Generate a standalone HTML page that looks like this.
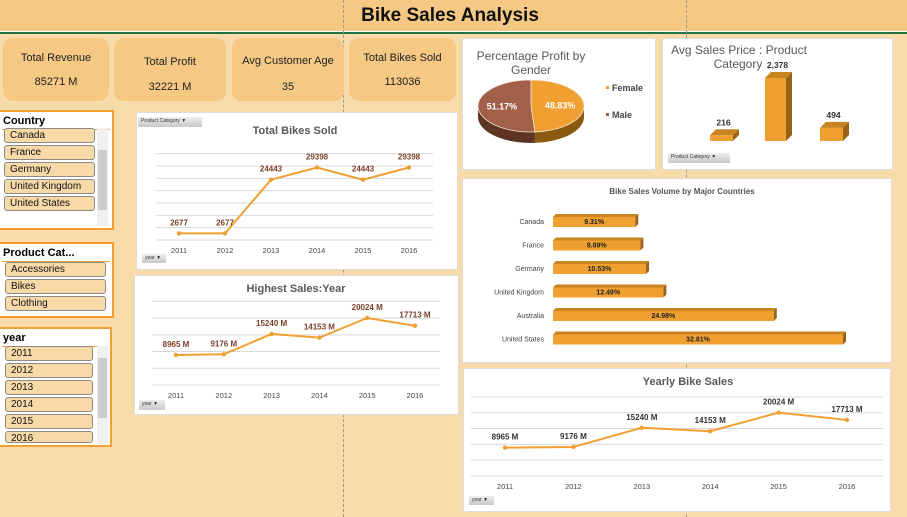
<!DOCTYPE html>
<html><head><meta charset="utf-8">
<style>
*{box-sizing:border-box;margin:0;padding:0}
body{width:907px;height:517px;overflow:hidden;background:#f8dbab;font-family:"Liberation Sans",sans-serif;position:relative}
.abs{position:absolute}
#header{left:0;top:0;width:907px;height:32px;background:#f5c883}
#title{left:0;width:900px;top:5px;text-align:center;font-weight:bold;font-size:19px;color:#111}
.kpi{background:#f5c883;border-radius:10px;text-align:center;font-size:11px;color:#222}
.kpi .l{position:absolute;left:0;right:0;top:14px}
.kpi .v{position:absolute;left:0;right:0;top:38px}
.slicer{background:#fff;border:2px solid #f0a030}
.slicer .hd{position:absolute;left:3px;top:3px;font-weight:bold;font-size:11px;color:#000}
.slicer .hl{position:absolute;left:2px;right:2px;top:17px;height:1px;background:#f0a030}
.item{position:absolute;height:15px;background:#f8d9a8;border:1px solid #8a8a8a;border-radius:3px;font-size:10px;padding-left:5px;line-height:13px;color:#111}
.scroll{position:absolute;background:#f0f0f0;width:11px}
.thumb{position:absolute;left:1px;width:9px;background:#cdcdcd}
.panel{background:#fff;border:1px solid #ddd}
.btn{position:absolute;background:linear-gradient(#eee,#c8c8c8);font-size:5px;color:#333;line-height:9px;padding-left:3px}
</style></head><body>
<div class="abs" id="header"></div>
<div class="abs" style="left:0;top:31px;width:907px;height:1px;background:#fff"></div>
<div class="abs" style="left:0;top:32px;width:907px;height:2px;background:#217346"></div>
<div class="abs" id="title">Bike Sales Analysis</div>
<div class="abs" style="left:343px;top:0;height:517px;border-left:1px dashed #999"></div>
<div class="abs" style="left:686px;top:0;height:517px;border-left:1px dashed #999"></div>

<div class="abs kpi" style="left:3px;top:38px;width:106px;height:63px"><div class="l">Total Revenue</div><div class="v">85271 M</div></div>
<div class="abs kpi" style="left:114px;top:38px;width:112px;height:63px"><div class="l" style="top:18px">Total Profit</div><div class="v" style="top:43px">32221 M</div></div>
<div class="abs kpi" style="left:232px;top:38px;width:112px;height:63px"><div class="l" style="top:17px">Avg Customer Age</div><div class="v" style="top:43px">35</div></div>
<div class="abs kpi" style="left:349px;top:38px;width:107px;height:63px"><div class="l" style="top:14px">Total Bikes Sold</div><div class="v" style="top:38px">113036</div></div>

<div class="abs slicer" style="left:-2px;top:110px;width:116px;height:120px">
<div class="hd">Country</div><div class="hl"></div>
<div class="item" style="left:4px;top:16px;width:91px">Canada</div>
<div class="item" style="left:4px;top:33px;width:91px">France</div>
<div class="item" style="left:4px;top:50px;width:91px">Germany</div>
<div class="item" style="left:4px;top:67px;width:91px">United Kingdom</div>
<div class="item" style="left:4px;top:84px;width:91px">United States</div>
<div class="scroll" style="left:97px;top:16px;height:98px"><div class="thumb" style="top:22px;height:60px"></div></div>
</div>
<div class="abs slicer" style="left:-2px;top:242px;width:116px;height:76px">
<div class="hd">Product Cat...</div><div class="hl"></div>
<div class="item" style="left:5px;top:18px;width:101px">Accessories</div>
<div class="item" style="left:5px;top:35px;width:101px">Bikes</div>
<div class="item" style="left:5px;top:52px;width:101px">Clothing</div>
</div>
<div class="abs slicer" style="left:-2px;top:327px;width:114px;height:120px">
<div class="hd">year</div><div class="hl"></div>
<div class="item" style="left:5px;top:17px;width:88px">2011</div>
<div class="item" style="left:5px;top:34px;width:88px">2012</div>
<div class="item" style="left:5px;top:51px;width:88px">2013</div>
<div class="item" style="left:5px;top:68px;width:88px">2014</div>
<div class="item" style="left:5px;top:85px;width:88px">2015</div>
<div class="item" style="left:5px;top:102px;width:88px;height:12px">2016</div>
<div class="scroll" style="left:97px;top:17px;height:98px"><div class="thumb" style="top:12px;height:60px"></div></div>
</div>

<div class="abs panel" style="left:136px;top:112px;width:322px;height:158px"></div>
<div class="abs panel" style="left:134px;top:275px;width:325px;height:140px"></div>
<div class="abs panel" style="left:462px;top:38px;width:194px;height:132px"></div>
<div class="abs panel" style="left:662px;top:38px;width:231px;height:132px"></div>
<div class="abs panel" style="left:462px;top:178px;width:430px;height:185px"></div>
<div class="abs panel" style="left:463px;top:368px;width:428px;height:144px"></div>

<div class="btn" style="left:138px;top:117px;width:64px;height:10px">Product Category ▼</div>
<div class="btn" style="left:142px;top:254px;width:24px;height:9px">year ▼</div>
<div class="btn" style="left:139px;top:400px;width:26px;height:10px">year ▼</div>
<div class="btn" style="left:668px;top:153px;width:62px;height:10px">Product Category ▼</div>
<div class="btn" style="left:469px;top:496px;width:25px;height:9px">year ▼</div>

<svg id="chart" class="abs" style="left:0;top:0" width="907" height="517"></svg>

<script>
const years = ["2011","2012","2013","2014","2015","2016"];
const bikesSold = [2677, 2677, 24443, 29398, 24443, 29398];
const bikesTicks = [0,5000,10000,15000,20000,25000,30000,35000];
const salesM = [8965, 9176, 15240, 14153, 20024, 17713];
const salesTicks = [0,5000,10000,15000,20000,25000];
const genderLabels = ["Female","Male"];
const genderPct = [48.83, 51.17];
const priceCats = ["Accessories","Bikes","Clothing"];
const avgPrice = [216, 2378, 494];
const countries = ["Canada","France","Germany","United Kingdom","Australia","United States"];
const countryPct = [9.31, 9.89, 10.53, 12.49, 24.98, 32.81];

const svg = document.getElementById('chart');
const NS = 'http://www.w3.org/2000/svg';
function mk(tag, attrs, txt){const e=document.createElementNS(NS,tag);for(const k in attrs)e.setAttribute(k,attrs[k]);if(txt!==undefined)e.textContent=txt;svg.appendChild(e);return e;}
const ORANGE='#f0a030';

function lineChart(cfg, vals, ticks, fmt, prefix){
  const xs=i=>cfg.x0+i*cfg.dx;
  const ys=v=>cfg.yb-v*cfg.k;
  let t=mk('text',{x:cfg.tx,y:cfg.ty,'text-anchor':'middle','font-size':cfg.tfs,'font-weight':'bold',fill:'#595959'},cfg.title);
  
  
  ticks.forEach(v=>{const g=mk('line',{x1:cfg.gl,x2:cfg.gr,y1:ys(v),y2:ys(v),stroke:'#d9d9d9','stroke-width':1});
    
    });
  const pts=vals.map((v,i)=>xs(i)+','+ys(v)).join(' ');
  const pl=mk('polyline',{points:pts,fill:'none',stroke:ORANGE,'stroke-width':2});
  
  
  vals.forEach((v,i)=>{
    const c=mk('circle',{cx:xs(i),cy:ys(v),r:2.2,fill:ORANGE});
    
    
    const l=mk('text',{x:xs(i),y:ys(v)-cfg.lo,'text-anchor':'middle','font-size':8,'font-weight':'bold',fill:cfg.lc},fmt(v));
    
    
    const y=mk('text',{x:xs(i),y:cfg.yl,'text-anchor':'middle','font-size':7.5,fill:'#444'},years[i]);
    
    
  });
}
lineChart({title:'Total Bikes Sold',tx:295,ty:134,tfs:11,gl:156,gr:433,x0:179,dx:46,yb:240,k:74/30000,lo:8,lc:'#7b3f2b',yl:253},bikesSold,bikesTicks,v=>String(v),'bikes-sold');
lineChart({title:'Highest Sales:Year',tx:296,ty:292,tfs:11,gl:152,gr:440,x0:176,dx:47.8,yb:385,k:37/11059,lo:8,lc:'#7b3f2b',yl:398},salesM,salesTicks,v=>v+' M','highest-sales');
lineChart({title:'Yearly Bike Sales',tx:688,ty:385,tfs:11,gl:471,gr:883,x0:505,dx:68.4,yb:476,k:35/11059,lo:8,lc:'#333',yl:489},salesM,salesTicks,v=>v+' M','yearly-sales');

// pie
(function(){
  const cx=531, cy=106, rx=53, ry=26, d=11;
  let t=mk('text',{x:531,y:60,'text-anchor':'middle','font-size':12,fill:'#595959'},'Percentage Profit by');
  
  
  mk('text',{x:531,y:74,'text-anchor':'middle','font-size':12,fill:'#595959'},'Gender');
  const total=genderPct.reduce((a,b)=>a+b,0);
  const colors=[ORANGE,'#a0604a'], side=['#8a5a10','#5e3424'];
  let a0=-Math.PI/2;
  const angs=genderPct.map(p=>{const s=a0;a0+=p/total*2*Math.PI;return [s,a0];});
  const P=(a,dy)=>[cx+rx*Math.cos(a),cy+ry*Math.sin(a)+(dy||0)];
  // sides (bottom half)
  angs.forEach(([s,e],i)=>{
    const s2=Math.max(s,0), e2=Math.min(e,Math.PI);
    let ss=s, ee=e;
    // map to front arc range [0,PI]
    const segs=[];
    for(const off of [0,2*Math.PI]){const a=Math.max(s,off+0),b=Math.min(e,off+Math.PI);if(b>a)segs.push([a,b]);}
    segs.forEach(([a,b])=>{const p1=P(a),p2=P(b);
      const s1=mk('path',{d:`M${p1} A${rx},${ry} 0 0 1 ${p2} L${P(b,d)} A${rx},${ry} 0 0 0 ${P(a,d)} Z`,fill:side[i]});
      
      });
  });
  angs.forEach(([s,e],i)=>{
    const large=(e-s)>Math.PI?1:0;
    const sl=mk('path',{d:`M${cx},${cy} L${P(s)} A${rx},${ry} 0 ${large} 1 ${P(e)} Z`,fill:colors[i],stroke:'#f5e6d0','stroke-width':0.8});
    
    
    const m=(s+e)/2;
    const l=mk('text',{x:cx+rx*0.55*Math.cos(m),y:cy+ry*0.4*Math.sin(m)+3,'text-anchor':'middle','font-size':9,'font-weight':'bold',fill:'#fff'},genderPct[i].toFixed(2)+'%');
    
    
    const r=mk('rect',{x:606,y:86+i*27,width:3,height:3,fill:colors[i]});
    
    
    const lt=mk('text',{x:612,y:91+i*27,'font-size':9,'font-weight':'bold',fill:'#444'},genderLabels[i]);
    
    
  });
})();

// avg price 3D columns
(function(){
  let t=mk('text',{x:739,y:54,'text-anchor':'middle','font-size':12,fill:'#595959'},'Avg Sales Price : Product');
  
  
  mk('text',{x:738,y:68,'text-anchor':'middle','font-size':12,fill:'#595959'},'Category');
  const base=141, k=63/2378, xs=[710,765,820], w=[23,21,23], dp=6;
  avgPrice.forEach((v,i)=>{
    const h=v*k, x=xs[i], y=base-h;
    const f=mk('rect',{x:x,y:y,width:w[i],height:h,fill:ORANGE});
    
    
    mk('path',{d:`M${x},${y} L${x+dp},${y-dp} L${x+w[i]+dp},${y-dp} L${x+w[i]},${y} Z`,fill:'#c88420'});
    mk('path',{d:`M${x+w[i]},${y} L${x+w[i]+dp},${y-dp} L${x+w[i]+dp},${base-dp} L${x+w[i]},${base} Z`,fill:'#9a6418'});
    const l=mk('text',{x:x+w[i]/2+2,y:y-10,'text-anchor':'middle','font-size':8.5,'font-weight':'bold',fill:'#333'},v.toLocaleString('en-US'));
    
    
  });
})();

// horizontal bar chart
(function(){
  let t=mk('text',{x:682,y:194,'text-anchor':'middle','font-size':8,'font-weight':'bold',fill:'#555'},'Bike Sales Volume by Major Countries');
  
  
  const x0=553, k=290/32.81, y0=221, dy=23.5, h=10, dp=3;
  countries.forEach((c,i)=>{
    const cy=y0+i*dy, w=countryPct[i]*k, y=cy-h/2+1;
    const b=mk('rect',{x:x0,y:y,width:w,height:h,fill:ORANGE});
    
    
    mk('path',{d:`M${x0},${y} L${x0+dp},${y-dp} L${x0+w+dp},${y-dp} L${x0+w},${y} Z`,fill:'#c88420'});
    mk('path',{d:`M${x0+w},${y} L${x0+w+dp},${y-dp} L${x0+w+dp},${y+h-dp} L${x0+w},${y+h} Z`,fill:'#9a6418'});
    const l=mk('text',{x:x0+w/2,y:cy+3,'text-anchor':'middle','font-size':7,'font-weight':'bold',fill:'#222'},countryPct[i].toFixed(2)+'%');
    
    
    const n=mk('text',{x:544,y:cy+3,'text-anchor':'end','font-size':7,fill:'#444'},c);
    
    
  });
})();
</script>
</body></html>
